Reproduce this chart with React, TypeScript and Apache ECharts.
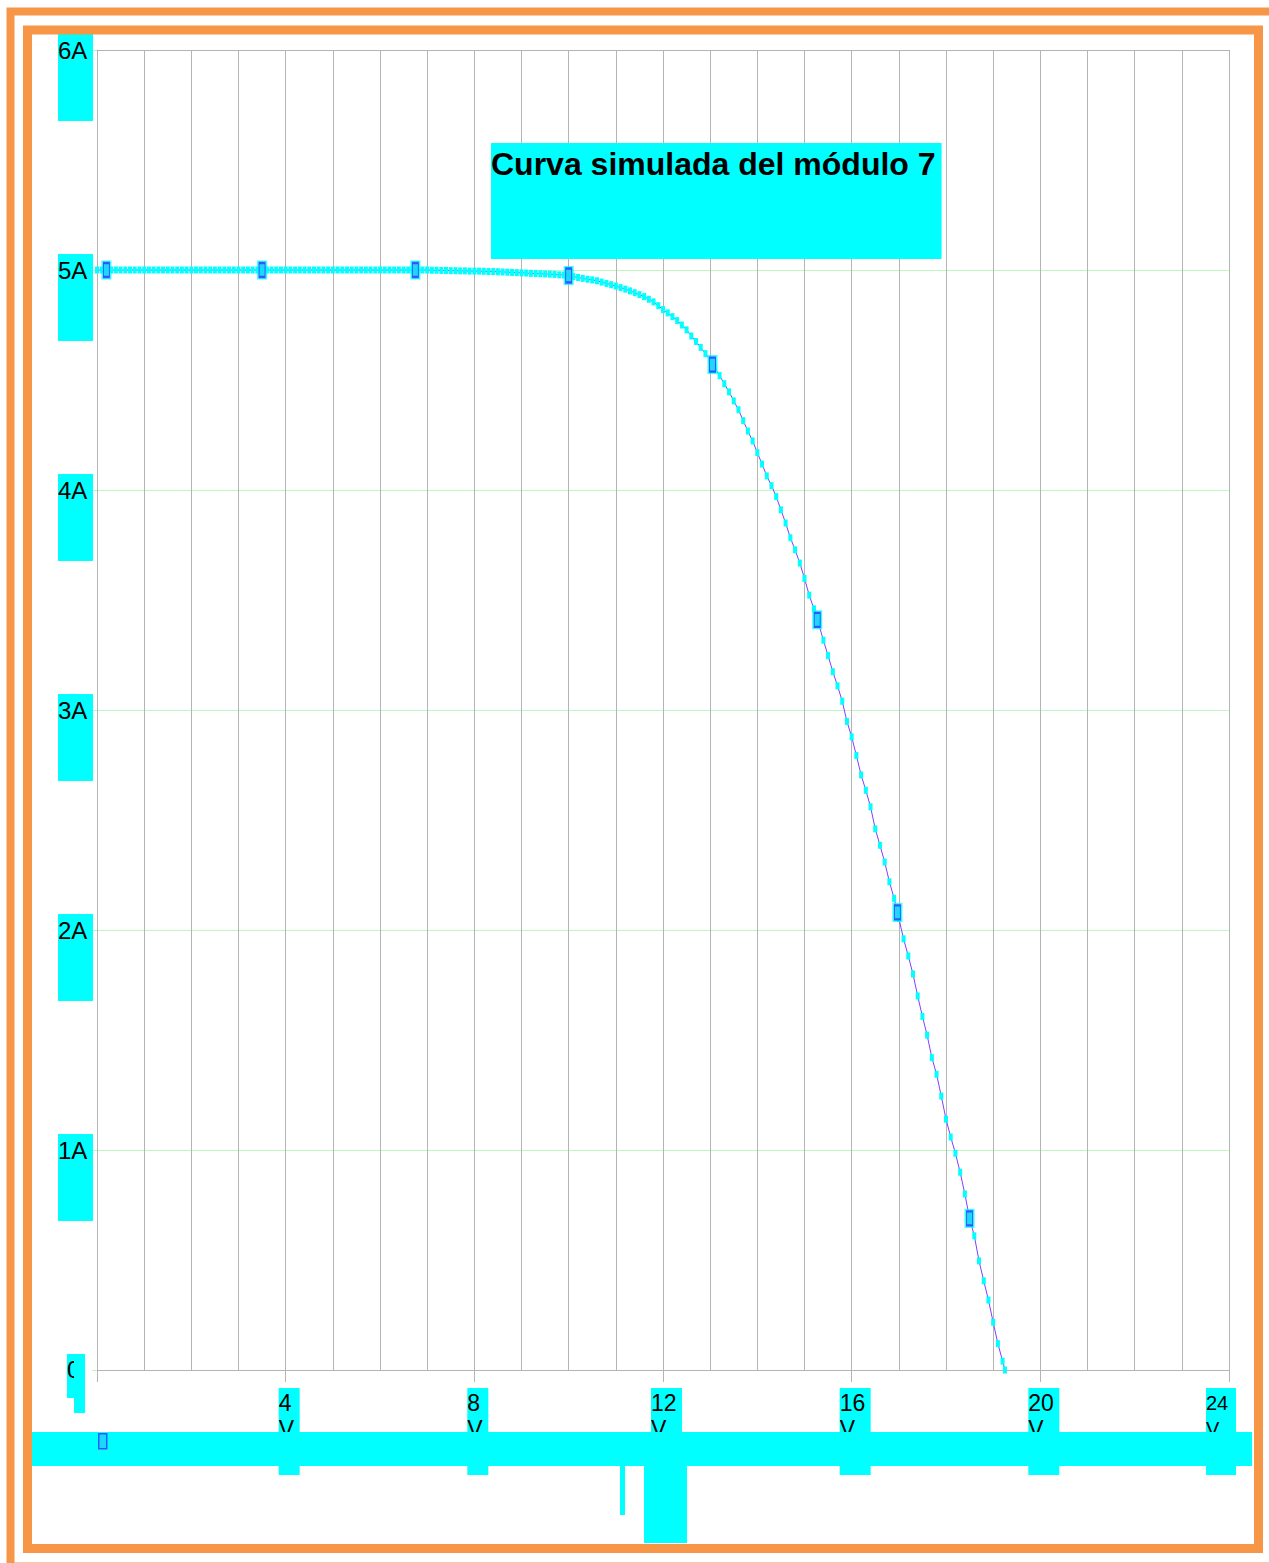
import React, { useEffect, useRef } from 'react';
import * as echarts from 'echarts';

// Simulated I-V curve of module 7: voltage (V) and current (A) samples
const voltage = [
  0.0, 0.1, 0.2, 0.3, 0.4, 0.5, 0.6, 0.7, 0.8, 0.9,
  1.0, 1.1, 1.2, 1.3, 1.4, 1.5, 1.6, 1.7, 1.8, 1.9,
  2.0, 2.1, 2.2, 2.3, 2.4, 2.5, 2.6, 2.7, 2.8, 2.9,
  3.0, 3.1, 3.2, 3.3, 3.4, 3.5, 3.6, 3.7, 3.8, 3.9,
  4.0, 4.1, 4.2, 4.3, 4.4, 4.5, 4.6, 4.7, 4.8, 4.9,
  5.0, 5.1, 5.2, 5.3, 5.4, 5.5, 5.6, 5.7, 5.8, 5.9,
  6.0, 6.1, 6.2, 6.3, 6.4, 6.5, 6.6, 6.7, 6.8, 6.9,
  7.0, 7.1, 7.2, 7.3, 7.4, 7.5, 7.6, 7.7, 7.8, 7.9,
  8.0, 8.1, 8.2, 8.3, 8.4, 8.5, 8.6, 8.7, 8.8, 8.9,
  9.0, 9.1, 9.2, 9.3, 9.4, 9.5, 9.6, 9.7, 9.8, 9.9,
  10.0, 10.1, 10.2, 10.3, 10.4, 10.5, 10.6, 10.7, 10.8, 10.9,
  11.0, 11.1, 11.2, 11.3, 11.4, 11.5, 11.6, 11.7, 11.8, 11.9,
  12.0, 12.1, 12.2, 12.3, 12.4, 12.5, 12.6, 12.7, 12.8, 12.9,
  13.0, 13.1, 13.2, 13.3, 13.4, 13.5, 13.6, 13.7, 13.8, 13.9,
  14.0, 14.1, 14.2, 14.3, 14.4, 14.5, 14.6, 14.7, 14.8, 14.9,
  15.0, 15.1, 15.2, 15.3, 15.4, 15.5, 15.6, 15.7, 15.8, 15.9,
  16.0, 16.1, 16.2, 16.3, 16.4, 16.5, 16.6, 16.7, 16.8, 16.9,
  17.0, 17.1, 17.2, 17.3, 17.4, 17.5, 17.6, 17.7, 17.8, 17.9,
  18.0, 18.1, 18.2, 18.3, 18.4, 18.5, 18.6, 18.7, 18.8, 18.9,
  19.0, 19.1, 19.2, 19.25,
];

const current = [
  5.0, 5.0, 5.0, 5.0, 5.0, 5.0, 5.0, 5.0, 5.0, 5.0,
  5.0, 5.0, 5.0, 5.0, 5.0, 5.0, 5.0, 5.0, 5.0, 5.0,
  5.0, 5.0, 5.0, 5.0, 5.0, 5.0, 5.0, 5.0, 5.0, 5.0,
  5.0, 5.0, 5.0, 5.0, 5.0, 5.0, 5.0, 5.0, 5.0, 5.0,
  5.0, 5.0, 5.0, 5.0, 5.0, 5.0, 5.0, 5.0, 5.0, 5.0,
  5.0, 5.0, 5.0, 5.0, 5.0, 5.0, 5.0, 5.0, 5.0, 5.0,
  5.0, 5.0, 5.0, 5.0, 5.0, 5.0, 5.0, 5.0, 5.0, 5.0,
  5.0, 4.999, 4.999, 4.998, 4.998, 4.997, 4.997, 4.996, 4.996, 4.995,
  4.995, 4.995, 4.994, 4.993, 4.993, 4.992, 4.991, 4.99, 4.989, 4.988,
  4.987, 4.986, 4.985, 4.984, 4.983, 4.982, 4.981, 4.98, 4.978, 4.977,
  4.975, 4.97, 4.966, 4.962, 4.958, 4.955, 4.951, 4.945, 4.939, 4.933,
  4.927, 4.92, 4.913, 4.905, 4.897, 4.888, 4.879, 4.867, 4.855, 4.838,
  4.82, 4.805, 4.788, 4.77, 4.75, 4.728, 4.7, 4.675, 4.648, 4.62,
  4.59, 4.556, 4.52, 4.483, 4.446, 4.405, 4.365, 4.315, 4.268, 4.223,
  4.17, 4.118, 4.064, 4.02, 3.97, 3.91, 3.85, 3.783, 3.728, 3.668,
  3.598, 3.522, 3.46, 3.392, 3.317, 3.247, 3.174, 3.11, 3.04, 2.948,
  2.878, 2.793, 2.705, 2.635, 2.56, 2.46, 2.385, 2.309, 2.219, 2.144,
  2.053, 1.96, 1.882, 1.8, 1.7, 1.607, 1.522, 1.42, 1.344, 1.245,
  1.14, 1.059, 0.985, 0.899, 0.8, 0.689, 0.61, 0.496, 0.405, 0.318,
  0.217, 0.12, 0.04, 0.0,
];

// Highlighted sample points on the curve
const markerVoltage = [0.2, 3.5, 6.75, 10.0, 13.05, 15.27, 16.97, 18.5];
const markerCurrent = [5.0, 5.0, 5.0, 4.975, 4.57, 3.41, 2.08, 0.689];

const chartTitle = 'Curva simulada del módulo 7';
const voltUnit = 'V';
const ampUnit = 'A';

const CYAN = '#00ffff';
const GRAY = '#b4b4b4';
const GREEN = '#bff5bf';
const ORANGE = '#f79646';
const LINE = '#7f3fff';
const FONT = 'Liberation Sans';

const txt = (extra: Record<string, unknown>) => ({
  fontFamily: FONT,
  color: '#000',
  align: 'left',
  ...extra,
});

export default function App() {
  const ref = useRef<HTMLDivElement>(null);

  useEffect(() => {
    if (!ref.current) return;
    const chart = echarts.init(ref.current, undefined, { renderer: 'svg' });

    const curveData = voltage.map((v, i) => [v, current[i]]);
    const markerData = markerVoltage.map((v, i) => [v, markerCurrent[i]]);

    chart.setOption({
      animation: false,
      backgroundColor: '#ffffff',
      title: {
        text: chartTitle,
        left: 491,
        top: 143,
        backgroundColor: CYAN,
        padding: [5, 6, 79, 0],
        textStyle: {
          fontFamily: FONT,
          fontSize: 32,
          fontWeight: 'bold',
          color: '#000',
          lineHeight: 32,
        },
      },
      grid: { left: 97, right: 40, top: 50, bottom: 193, containLabel: false },
      legend: {
        left: 98,
        top: 1433,
        padding: 0,
        itemWidth: 8,
        itemHeight: 15,
        data: [{ name: 'Puntos', icon: 'rect' }],
        formatter: () => '',
        itemStyle: { color: '#22ccff', borderColor: '#3333ff', borderWidth: 1.5 },
        textStyle: { fontSize: 1 },
      },
      xAxis: {
        type: 'value',
        min: 0,
        max: 24,
        interval: 4,
        axisLine: { show: true, onZero: false, lineStyle: { color: GRAY, width: 1 } },
        axisTick: { show: true, length: 12, lineStyle: { color: GRAY } },
        minorTick: { show: false, splitNumber: 4 },
        splitLine: { show: true, lineStyle: { color: GRAY, width: 1 } },
        minorSplitLine: { show: true, lineStyle: { color: GRAY, width: 1 } },
        axisLabel: {
          margin: 18,
          fontFamily: FONT,
          fontSize: 23,
          color: '#000',
          formatter: (v: number) => {
            if (v === 0) return '';
            const s = String(v);
            if (v === 24) {
              return `{n3|${s}}{q| }\n{u3|${voltUnit}}{q| }\n{t3| }{q| }`;
            }
            const k = s.length === 1 ? '1' : '2';
            return `{p| }{n${k}|${s}}\n{p| }{u${k}|${voltUnit}}\n{p| }{t${k}| }`;
          },
          rich: {
            p: txt({ width: 7, height: 1, fontSize: 10 }),
            q: txt({ width: 16, height: 1, fontSize: 10 }),
            n1: txt({ width: 21, height: 29, fontSize: 23, backgroundColor: CYAN }),
            u1: txt({ width: 21, height: 24, fontSize: 23, backgroundColor: CYAN }),
            t1: txt({ width: 21, height: 34, fontSize: 23, backgroundColor: CYAN }),
            n2: txt({ width: 31, height: 29, fontSize: 23, backgroundColor: CYAN }),
            u2: txt({ width: 31, height: 24, fontSize: 23, backgroundColor: CYAN }),
            t2: txt({ width: 31, height: 34, fontSize: 23, backgroundColor: CYAN }),
            n3: txt({ width: 30, height: 29, fontSize: 20, backgroundColor: CYAN }),
            u3: txt({ width: 30, height: 24, fontSize: 20, backgroundColor: CYAN }),
            t3: txt({ width: 30, height: 34, fontSize: 20, backgroundColor: CYAN }),
          },
        },
      },
      yAxis: {
        type: 'value',
        min: 0,
        max: 6,
        interval: 1,
        axisLine: { show: true, lineStyle: { color: GRAY, width: 1 } },
        axisTick: { show: true, length: 5, lineStyle: { color: GREEN } },
        splitLine: {
          show: true,
          lineStyle: { color: [GREEN, GREEN, GREEN, GREEN, GREEN, GREEN, GRAY], width: 1 },
        },
        axisLabel: {
          margin: 4,
          fontFamily: FONT,
          fontSize: 24,
          color: '#000',
          formatter: (v: number) => {
            if (v === 0) return `{g0| }\n{z|${v}}{w| }{e| }`;
            return `{g| }\n{a|${v}${ampUnit}}\n{b| }`;
          },
          rich: {
            g: txt({ width: 35, height: 55, fontSize: 10 }),
            a: txt({ width: 35, height: 32, fontSize: 24, backgroundColor: CYAN }),
            b: txt({ width: 35, height: 55, fontSize: 24, backgroundColor: CYAN }),
            g0: txt({ width: 26, height: 27, fontSize: 10 }),
            z: txt({
              width: 7,
              height: 30,
              padding: [0, 0, 14, 0],
              fontSize: 24,
              verticalAlign: 'top',
              backgroundColor: CYAN,
            }),
            w: txt({ width: 11, height: 59, fontSize: 24, verticalAlign: 'top', backgroundColor: CYAN }),
            e: txt({ width: 8, height: 1, fontSize: 10, verticalAlign: 'top' }),
          },
        },
      },
      series: [
        {
          type: 'line',
          name: 'Curva',
          data: curveData,
          symbol: 'rect',
          symbolSize: [4, 7],
          showSymbol: true,
          itemStyle: { color: CYAN },
          lineStyle: { color: LINE, width: 1 },
          z: 2,
        },
        {
          type: 'scatter',
          name: 'Halo',
          data: markerData,
          symbol: 'rect',
          symbolSize: [10, 19],
          itemStyle: { color: CYAN },
          z: 3,
        },
        {
          type: 'scatter',
          name: 'Puntos',
          data: markerData,
          symbol: 'rect',
          symbolSize: [6, 14],
          itemStyle: { color: '#22ccff', borderColor: '#3333ff', borderWidth: 1.5 },
          z: 4,
        },
      ],
      graphic: [
        {
          type: 'rect',
          z: 1,
          silent: true,
          shape: { x: 32, y: 1432, width: 1220, height: 34 },
          style: { fill: CYAN },
        },
        {
          type: 'rect',
          z: 1,
          silent: true,
          shape: { x: 644, y: 1466, width: 43, height: 77 },
          style: { fill: CYAN },
        },
        {
          type: 'rect',
          z: 1,
          silent: true,
          shape: { x: 620, y: 1466, width: 5, height: 49 },
          style: { fill: CYAN },
        },
        {
          type: 'rect',
          z: 10,
          silent: true,
          shape: { x: 10.5, y: 11.5, width: 1280, height: 1555 },
          style: { fill: 'none', stroke: ORANGE, lineWidth: 8 },
        },
        {
          type: 'rect',
          z: 10,
          silent: true,
          shape: { x: 27.5, y: 30, width: 1231, height: 1518.5 },
          style: { fill: 'none', stroke: ORANGE, lineWidth: 9 },
        },
      ],
    });

    return () => {
      chart.dispose();
    };
  }, []);

  return (
    <div
      ref={ref}
      style={{ position: 'fixed', left: 0, top: 0, width: 1269, height: 1563 }}
    />
  );
}
